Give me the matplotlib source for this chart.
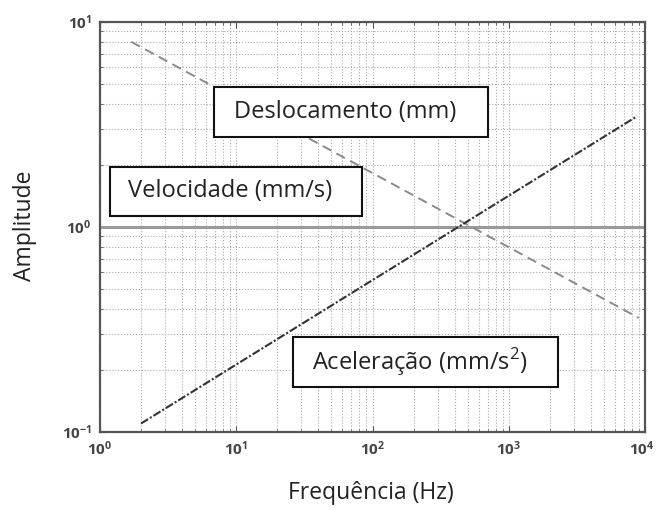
import numpy as np
import matplotlib.pyplot as plt
import matplotlib.transforms as mtransforms
from matplotlib.patches import Rectangle

# valores (escala log-log)
freq_desl = [1.7, 9000]
amp_desl = [8.0, 0.36]
freq_vel = [1, 10000]
amp_vel = [1.0, 1.0]
freq_acel = [2.0, 8750]
amp_acel = [0.11, 3.47]

rotulos = ["Deslocamento (mm)", "Velocidade (mm/s)", "Aceleração (mm/s$^2$)"]

plt.rcParams['font.family'] = ['Open Sans', 'DejaVu Sans']
plt.rcParams['mathtext.fontset'] = 'custom'
plt.rcParams['mathtext.rm'] = 'Open Sans'
plt.rcParams['mathtext.bf'] = 'Open Sans:bold'

fig = plt.figure(figsize=(6.56, 5.09), dpi=100)
W, H = 656, 509
L, R, T, B = 100, 645, 22, 432
ax = fig.add_axes([L / W, 1 - B / H, (R - L) / W, (B - T) / H])

ax.plot(freq_vel, amp_vel, color='#9a9a9a', lw=2.2, solid_capstyle='butt')
ax.plot(freq_desl, amp_desl, color='#8a8a8a', lw=1.4, ls=(0, (5, 3)))
ax.plot(freq_acel, amp_acel, color='#333333', lw=1.5, ls=(0, (4, 1, 1, 1)))

ax.set_xscale('log')
ax.set_yscale('log')
ax.set_xlim(1, 1e4)
ax.set_ylim(0.1, 10)
ax.grid(True, which='both', ls=':', color='#aaaaaa', lw=0.8)
ax.tick_params(which='both', direction='in', top=True, right=True, color='#555555')
ax.tick_params(which='major', length=4, labelsize=11, labelcolor='#444444', pad=6)
ax.tick_params(which='minor', length=2.5)
for s in ax.spines.values():
    s.set_color('#555555')
    s.set_linewidth(1.6)
ax.set_xticks([1, 10, 100, 1000, 10000])
ax.set_xticklabels(['$\\mathbf{10^{%d}}$' % k for k in range(5)])
ax.set_yticks([0.1, 1, 10])
ax.set_yticklabels(['$\\mathbf{10^{-1}}$', '$\\mathbf{10^{0}}$', '$\\mathbf{10^{1}}$'])
# o ultimo rotulo fica colado na borda
ultimo = ax.get_xticklabels()[-1]
ultimo.set_ha('right')
ultimo.set_transform(ultimo.get_transform() + mtransforms.ScaledTranslation(9 / 100, 0, fig.dpi_scale_trans))

ax.set_xlabel('Frequência (Hz)', fontsize=16.5, color='#222222', va='center')
ax.set_ylabel('Amplitude', fontsize=16.5, color='#222222', va='center')
ax.xaxis.set_label_coords((371 - L) / (R - L), (B - 493) / (B - T))
ax.yaxis.set_label_coords((25 - L) / (R - L), (B - 226) / (B - T))

# caixas de texto (em pixels da figura)
caixas = [(214, 87, 488, 137), (110, 167, 362, 216), (293, 337, 558, 387)]
for (x0, y0, x1, y1), txt in zip(caixas, rotulos):
    fx0 = (x0 - L) / (R - L)
    fx1 = (x1 - L) / (R - L)
    fy0 = (B - y1) / (B - T)
    fy1 = (B - y0) / (B - T)
    ax.add_patch(Rectangle((fx0, fy0), fx1 - fx0, fy1 - fy0, transform=ax.transAxes,
                           facecolor='white', edgecolor='#111111', lw=1.5, zorder=5))
    ax.text((fx0 + fx1) / 2 - 0.01, (fy0 + fy1) / 2, txt, transform=ax.transAxes,
            ha='center', va='center', fontsize=17, color='#222222', zorder=6)

fig.savefig('out.png', dpi=100)
